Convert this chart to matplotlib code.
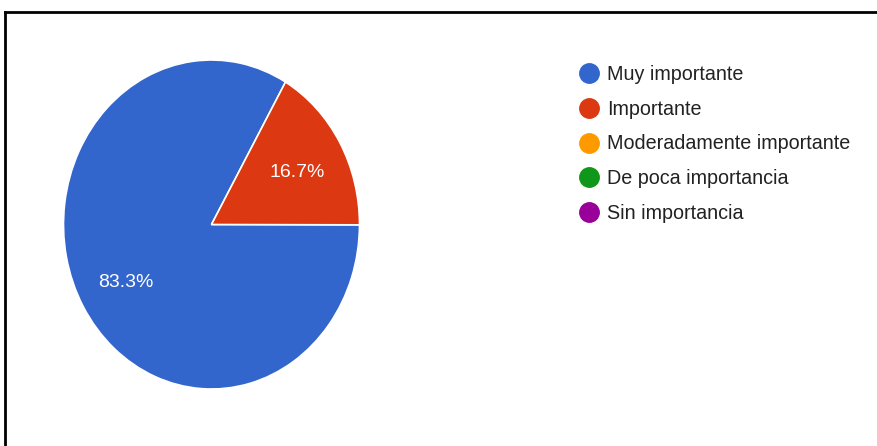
import matplotlib.pyplot as plt
from matplotlib.lines import Line2D

categories = ["Muy importante", "Importante", "Moderadamente importante",
              "De poca importancia", "Sin importancia"]
values = [83.3, 16.7, 0, 0, 0]
colors = ["#3366CC", "#DC3912", "#FF9900", "#109618", "#990099"]

W, H = 878, 446
plt.rcParams["font.family"] = ["Liberation Sans", "DejaVu Sans"]
fig = plt.figure(figsize=(W / 100, H / 100), dpi=100)

# pie axes: x -1..1 spans px 63.5..359.5, y -1..1 spans px 60..389
ax = fig.add_axes([63.5 / W, (H - 389) / H, 296 / W, 329 / H])
shown = [(v, c) for v, c in zip(values, colors) if v > 0]
wedges, texts, autotexts = ax.pie(
    [v for v, _ in shown], colors=[c for _, c in shown],
    startangle=60, counterclock=True, autopct="%.1f%%", pctdistance=0.67,
    wedgeprops=dict(edgecolor="white", linewidth=1.2),
    textprops=dict(color="white", fontsize=14))
for t in autotexts:
    x, y = t.get_position()
    t.set_position((x, y - 0.02))
ax.set_aspect("auto")
ax.set_xlim(-1, 1)
ax.set_ylim(-1, 1)
ax.axis("off")

handles = [Line2D([], [], marker="o", linestyle="none", markersize=14,
                  markerfacecolor=c, markeredgecolor=c) for c in colors]
fig.legend(handles, categories, loc="upper left",
           bbox_to_anchor=(567 / W, 1 - 55 / H), frameon=False,
           fontsize=14.2, labelcolor="#222222", handletextpad=0.35,
           labelspacing=0.80, handlelength=1.2, borderpad=0)

# frame lines around the chart
fig.add_artist(Line2D([5 / W, 1], [1 - 12 / H, 1 - 12 / H], color="black", lw=2))
fig.add_artist(Line2D([5 / W, 5 / W], [0, 1 - 12 / H], color="black", lw=2))

fig.savefig("out.png", dpi=100)
